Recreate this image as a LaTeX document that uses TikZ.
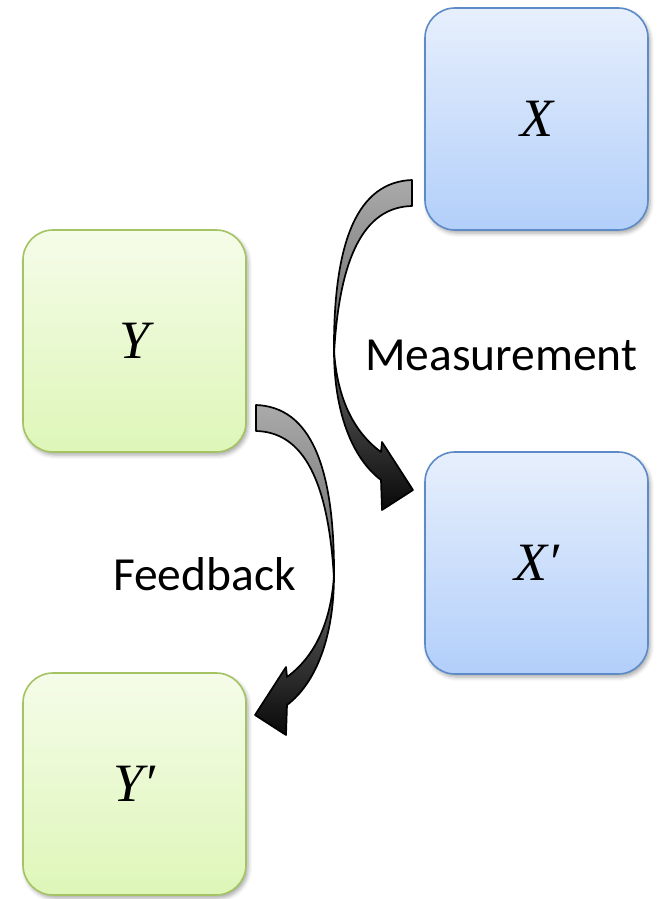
\documentclass[tikz,border=0pt]{standalone}
\usepackage{fontspec}
\setmainfont{Carlito}
\newfontfamily\varfont{Liberation Serif}
\usetikzlibrary{calc,shadows.blur}

\definecolor{bluetop}{RGB}{231,239,252}
\definecolor{bluebot}{RGB}{178,207,250}
\definecolor{blueline}{RGB}{92,139,199}
\definecolor{greentop}{RGB}{245,252,233}
\definecolor{greenbot}{RGB}{222,246,184}
\definecolor{greenline}{RGB}{164,195,99}
\definecolor{arrowlight}{RGB}{170,170,170}
\definecolor{arrowmid}{RGB}{105,105,105}
\definecolor{arrowdark}{RGB}{8,8,8}

\tikzset{
  box/.style={rounded corners=30pt, minimum width=223pt, minimum height=222pt,
    outer sep=0pt, line width=1.6pt,
    blur shadow={shadow xshift=2pt, shadow yshift=-3pt, shadow blur radius=4pt, shadow opacity=35},
    font=\fontsize{54}{64}\selectfont\varfont\itshape},
  bluebox/.style={box, draw=blueline, top color=bluetop, bottom color=bluebot},
  greenbox/.style={box, draw=greenline, top color=greentop, bottom color=greenbot},
  caption/.style={font=\fontsize{47.5}{56}\selectfont, anchor=base west, inner sep=0pt},
  arrowpart/.style={draw=black, line width=1.7pt, line join=round},
  % curved band arrow, origin at the upper corner of its tail
  pics/bentarrow/.style={code={
    % lower half of the band, ending in the head
    \path[arrowpart, top color=arrowmid, bottom color=arrowdark]
      (-78,170) .. controls (-78,232) and (-60,278) .. (-31,300)
      -- (-30,330) -- (1,310) -- (-30,262) -- (-31,272)
      .. controls (-57,253) and (-75,220) .. (-78,170) -- cycle;
    % upper half of the band, from the tail
    \path[arrowpart, top color=arrowlight, bottom color=arrowmid]
      (0,0) .. controls (-54,2) and (-79,60) .. (-78,174)
      .. controls (-72,65) and (-42,27) .. (0,26) -- cycle;
  }}
}

\begin{document}
\begin{tikzpicture}[x=1pt, y=-1pt]
  \useasboundingbox (0,0) rectangle (668,899);

  \node[bluebox]  (X)  at (536.5,119) {X};
  \node[greenbox] (Y)  at (134.5,341) {Y};
  \node[bluebox]  (Xp) at (536.5,563) {X′};
  \node[greenbox] (Yp) at (134.5,784) {Y′};

  % measurement: from X down to X'
  \pic at ($(X.west)+(-13,61)$) {bentarrow};
  % feedback: from Y down to Y', mirrored
  \pic[xscale=-1] at ($(Y.east)+(10,64)$) {bentarrow};

  \node[caption] (meas) at (365,370) {Measurement};
  \node[caption] (feed) at (113,590) {Feedback};
\end{tikzpicture}
\end{document}
